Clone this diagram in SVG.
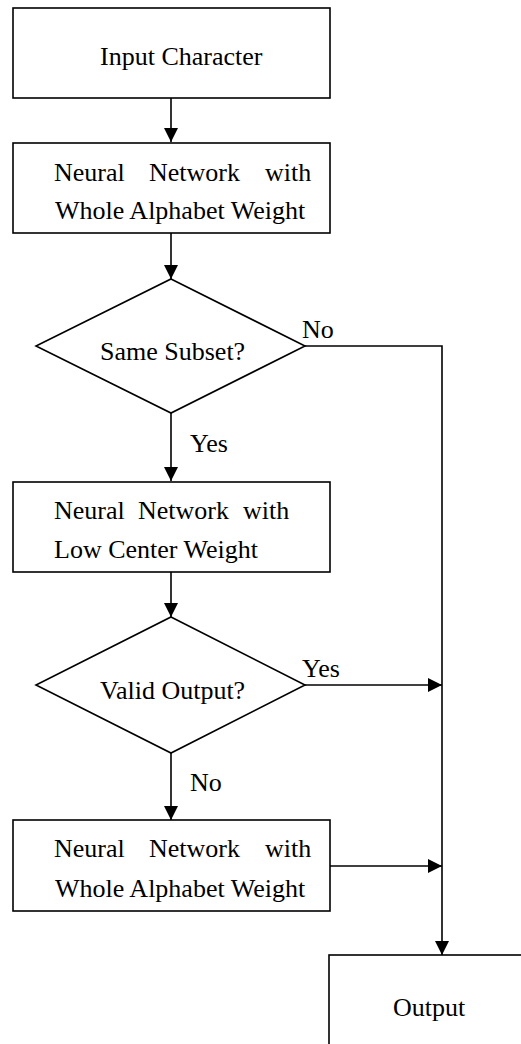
<svg xmlns="http://www.w3.org/2000/svg" width="521" height="1044" viewBox="0 0 521 1044">
<style>
.b{fill:#fff;stroke:#000;stroke-width:1.6}
.c{fill:none;stroke:#000;stroke-width:1.6}
text{font-family:"Liberation Serif","Times New Roman",serif;font-size:26px;fill:#000}
</style>
<defs>
<marker id="ah" markerUnits="userSpaceOnUse" markerWidth="16" markerHeight="16" refX="14" refY="7" orient="auto">
<path d="M0,0 L14,7 L0,14 z" fill="#000"/>
</marker>
</defs>
<rect width="521" height="1044" fill="#fff"/>
<g id="connectors">
<line class="c" x1="171" y1="98" x2="171" y2="142" marker-end="url(#ah)"/>
<line class="c" x1="171" y1="233" x2="171" y2="279" marker-end="url(#ah)"/>
<line class="c" x1="171" y1="413" x2="171" y2="481" marker-end="url(#ah)"/>
<line class="c" x1="171" y1="572" x2="171" y2="617" marker-end="url(#ah)"/>
<line class="c" x1="171" y1="753" x2="171" y2="820" marker-end="url(#ah)"/>
<polyline class="c" points="305,346 442,346 442,955" marker-end="url(#ah)"/>
<line class="c" x1="305" y1="685" x2="442" y2="685" marker-end="url(#ah)"/>
<line class="c" x1="330" y1="866" x2="442" y2="866" marker-end="url(#ah)"/>
<text x="302" y="338">No</text>
<text x="190" y="452">Yes</text>
<text x="302" y="677">Yes</text>
<text x="190" y="791">No</text>
</g>
<g id="input">
<rect class="b" x="13" y="8" width="317" height="90"/>
<text x="100" y="65">Input Character</text>
</g>
<g id="nn1">
<rect class="b" x="13" y="143" width="317" height="90"/>
<text y="181"><tspan x="54">Neural</tspan><tspan x="149">Network</tspan><tspan x="265">with</tspan></text>
<text x="55" y="219">Whole Alphabet Weight</text>
</g>
<g id="same-subset">
<polygon class="b" points="171,279 305,346 171,413 36,346"/>
<text x="100" y="360">Same Subset?</text>
</g>
<g id="nn2">
<rect class="b" x="13" y="482" width="317" height="90"/>
<text y="519"><tspan x="54">Neural</tspan><tspan x="138">Network</tspan><tspan x="243">with</tspan></text>
<text x="54" y="558">Low Center Weight</text>
</g>
<g id="valid-output">
<polygon class="b" points="171,617 305,685 171,753 36,685"/>
<text x="100" y="699">Valid Output?</text>
</g>
<g id="nn3">
<rect class="b" x="13" y="820" width="317" height="91"/>
<text y="857"><tspan x="54">Neural</tspan><tspan x="149">Network</tspan><tspan x="265">with</tspan></text>
<text x="55" y="897">Whole Alphabet Weight</text>
</g>
<g id="output">
<rect class="b" x="329" y="955" width="220" height="120"/>
<text x="393" y="1016">Output</text>
</g>
</svg>
